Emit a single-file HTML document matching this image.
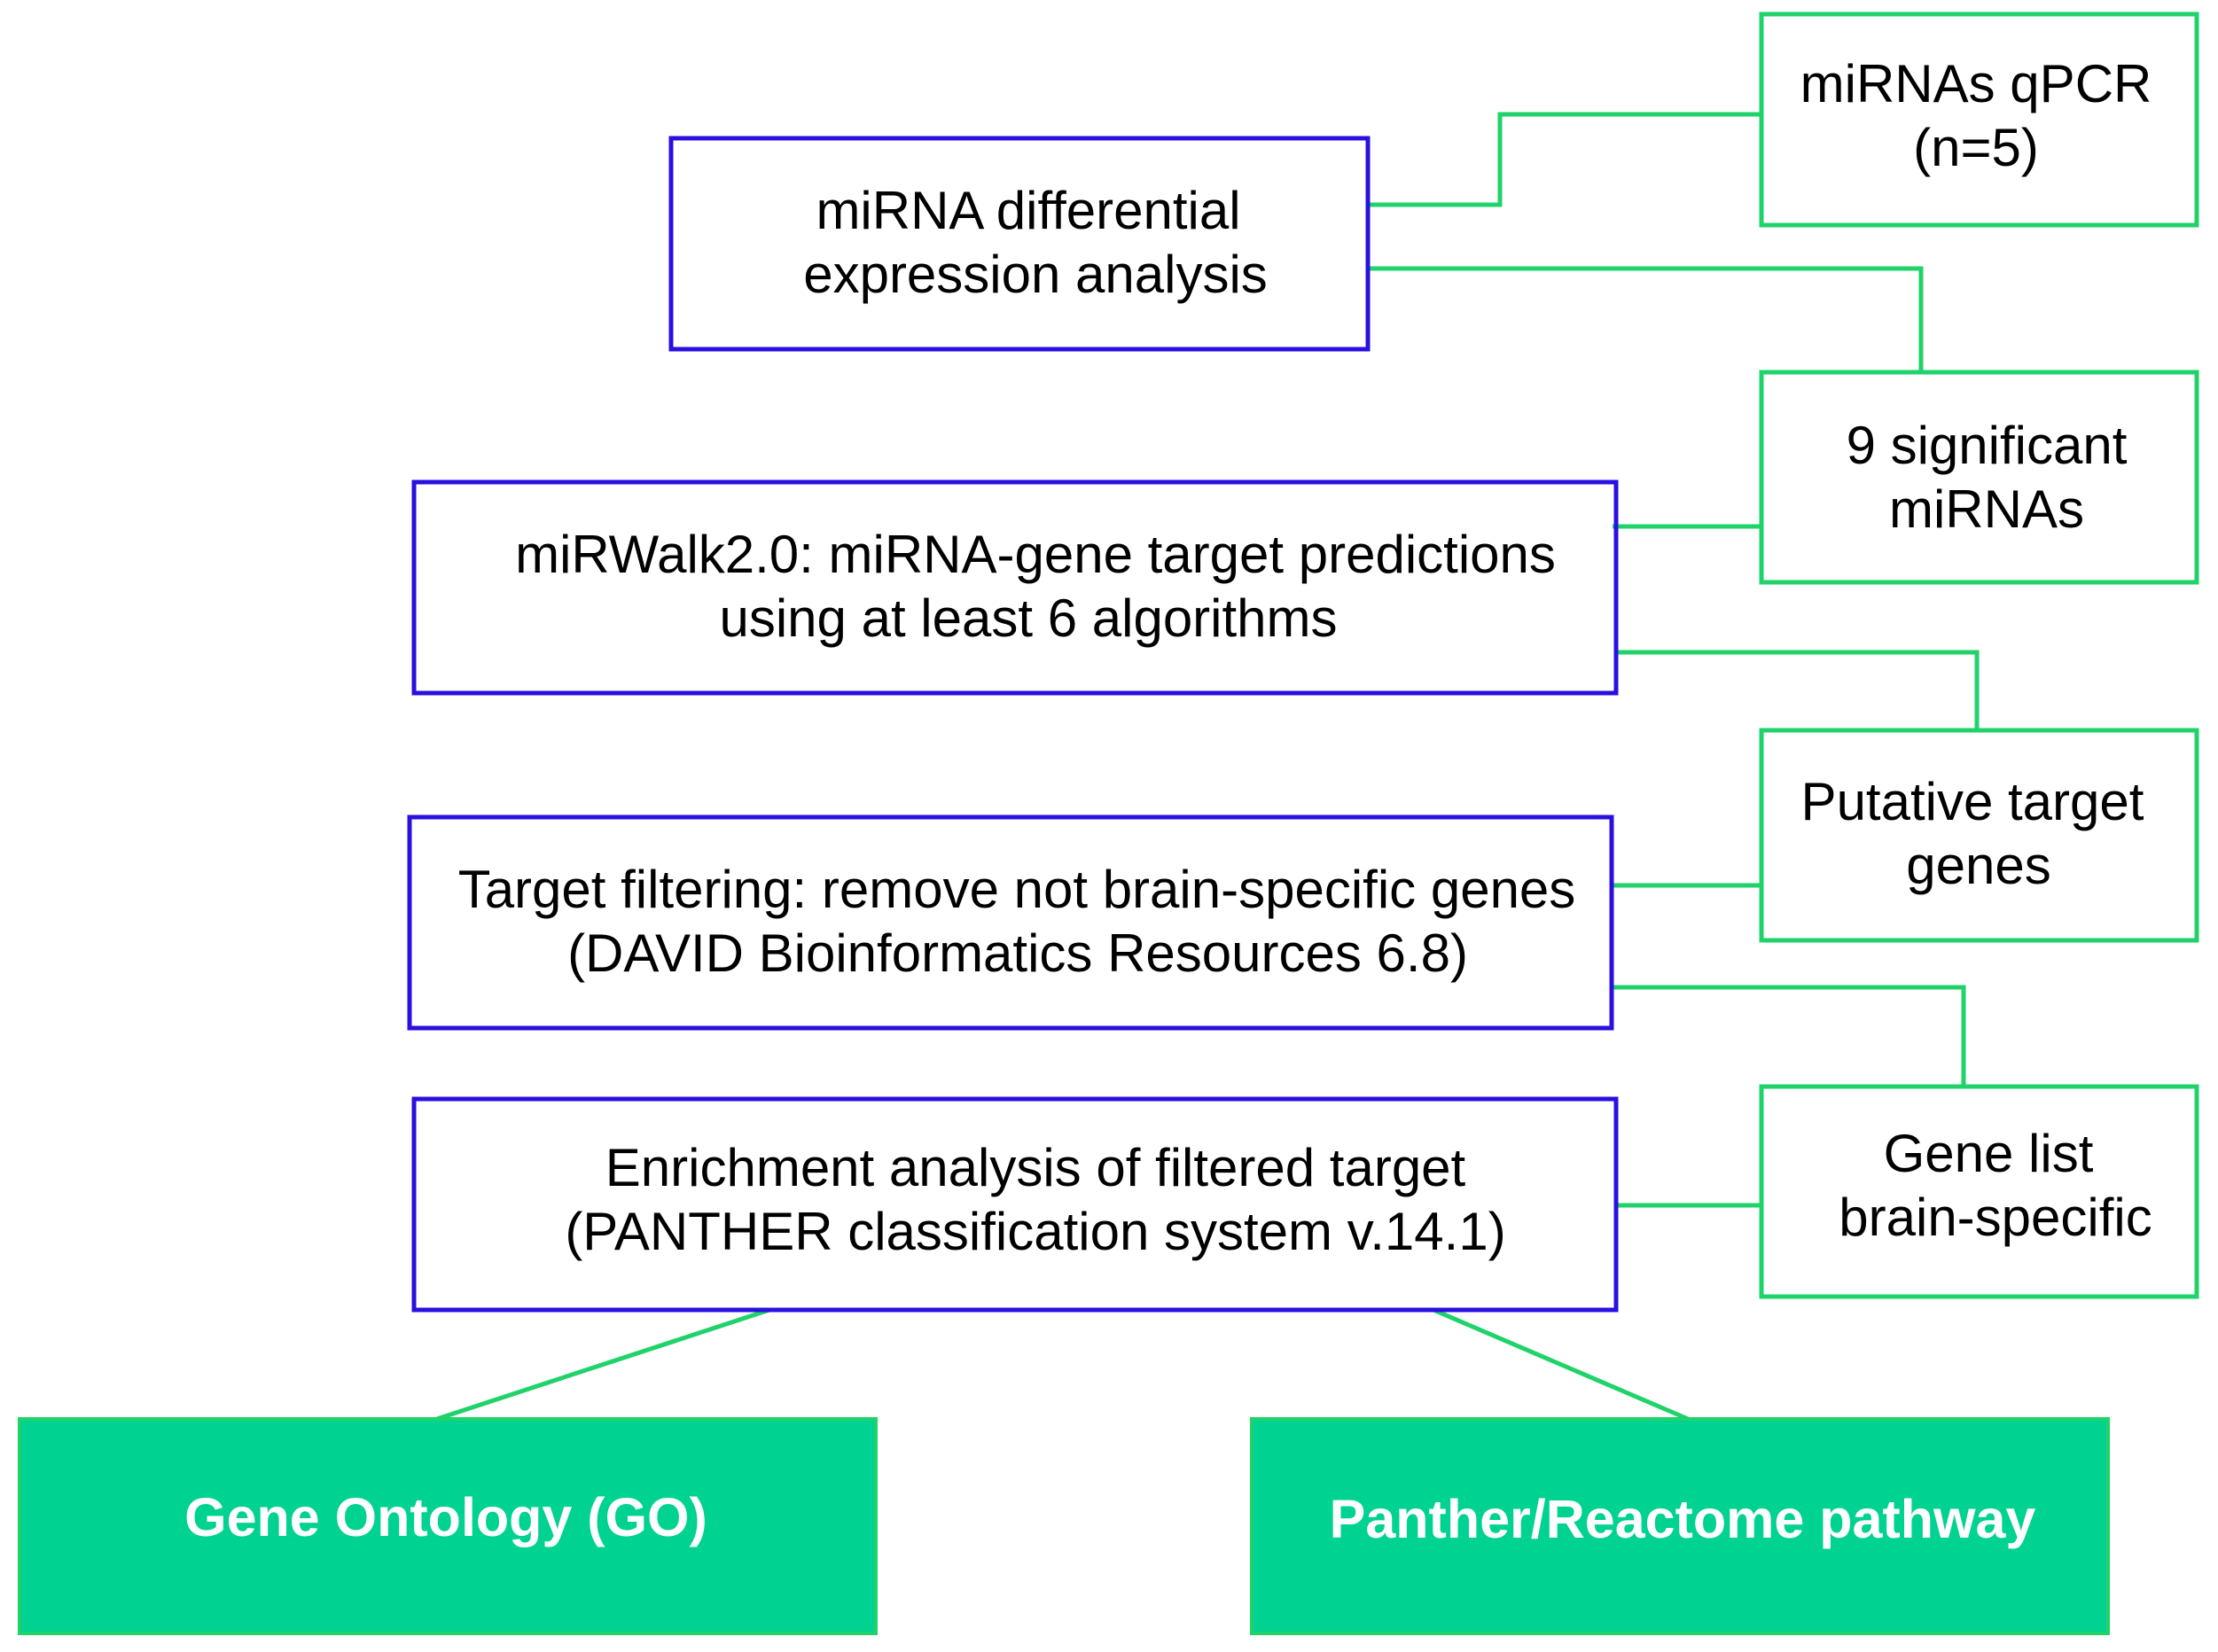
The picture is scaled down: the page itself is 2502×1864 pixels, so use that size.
<!DOCTYPE html>
<html><head><meta charset="utf-8"><style>
html,body{margin:0;padding:0;background:#fff;}
svg{display:block;}
text{font-family:"Liberation Sans",Arial,sans-serif;font-size:60px;fill:#000;text-anchor:middle;}
.b{font-weight:bold;fill:#fff;font-size:61px;}
</style></head><body>
<svg width="2502" height="1864" viewBox="0 0 2502 1864" xmlns="http://www.w3.org/2000/svg">
<g fill="none" stroke="#1fd36a" stroke-width="5">
<polyline points="1543,231 1692,231 1692,129 1985,129"/>
<polyline points="1543,303 2167,303 2167,418"/>
<line x1="1819" y1="594" x2="1985" y2="594"/>
<polyline points="1823,736 2230,736 2230,822"/>
<line x1="1818" y1="999" x2="1985" y2="999"/>
<polyline points="1818,1114 2215,1114 2215,1224"/>
<line x1="1823" y1="1360" x2="1985" y2="1360"/>
<line x1="868" y1="1478" x2="493" y2="1601"/>
<line x1="1617" y1="1478" x2="1904" y2="1601"/>
<rect x="1987" y="16" width="491" height="238"/>
<rect x="1987" y="420" width="491" height="237"/>
<rect x="1987" y="824" width="491" height="237"/>
<rect x="1987" y="1226" width="491" height="237"/>
</g>
<g fill="none" stroke="#2a10e0" stroke-width="5">
<rect x="757" y="156" width="786" height="238"/>
<rect x="467" y="544" width="1356" height="238"/>
<rect x="462" y="922" width="1356" height="238"/>
<rect x="467" y="1240" width="1356" height="238"/>
</g>
<rect x="22" y="1601" width="966" height="242" fill="#00d291" stroke="#1fd36a" stroke-width="4"/>
<rect x="1412" y="1601" width="966" height="242" fill="#00d291" stroke="#1fd36a" stroke-width="4"/>
<text x="1160" y="258">miRNA differential</text>
<text x="1168" y="330">expression analysis</text>
<text x="1168" y="646">miRWalk2.0: miRNA-gene target predictions</text>
<text x="1160" y="718">using at least 6 algorithms</text>
<text x="1147" y="1024">Target filtering: remove not brain-specific genes</text>
<text x="1148" y="1096">(DAVID Bioinformatics Resources 6.8)</text>
<text x="1168" y="1338">Enrichment analysis of filtered target</text>
<text x="1168" y="1410">(PANTHER classification system v.14.1)</text>
<text x="2229" y="115">miRNAs qPCR</text>
<text x="2229" y="187">(n=5)</text>
<text x="2241" y="523">9 significant</text>
<text x="2241" y="595">miRNAs</text>
<text x="2225" y="925">Putative target</text>
<text x="2232" y="997">genes</text>
<text x="2243" y="1322">Gene list</text>
<text x="2251" y="1394">brain-specific</text>
<text class="b" x="503" y="1733">Gene Ontology (GO)</text>
<text class="b" x="1898" y="1735">Panther/Reactome pathway</text>
</svg>
</body></html>
